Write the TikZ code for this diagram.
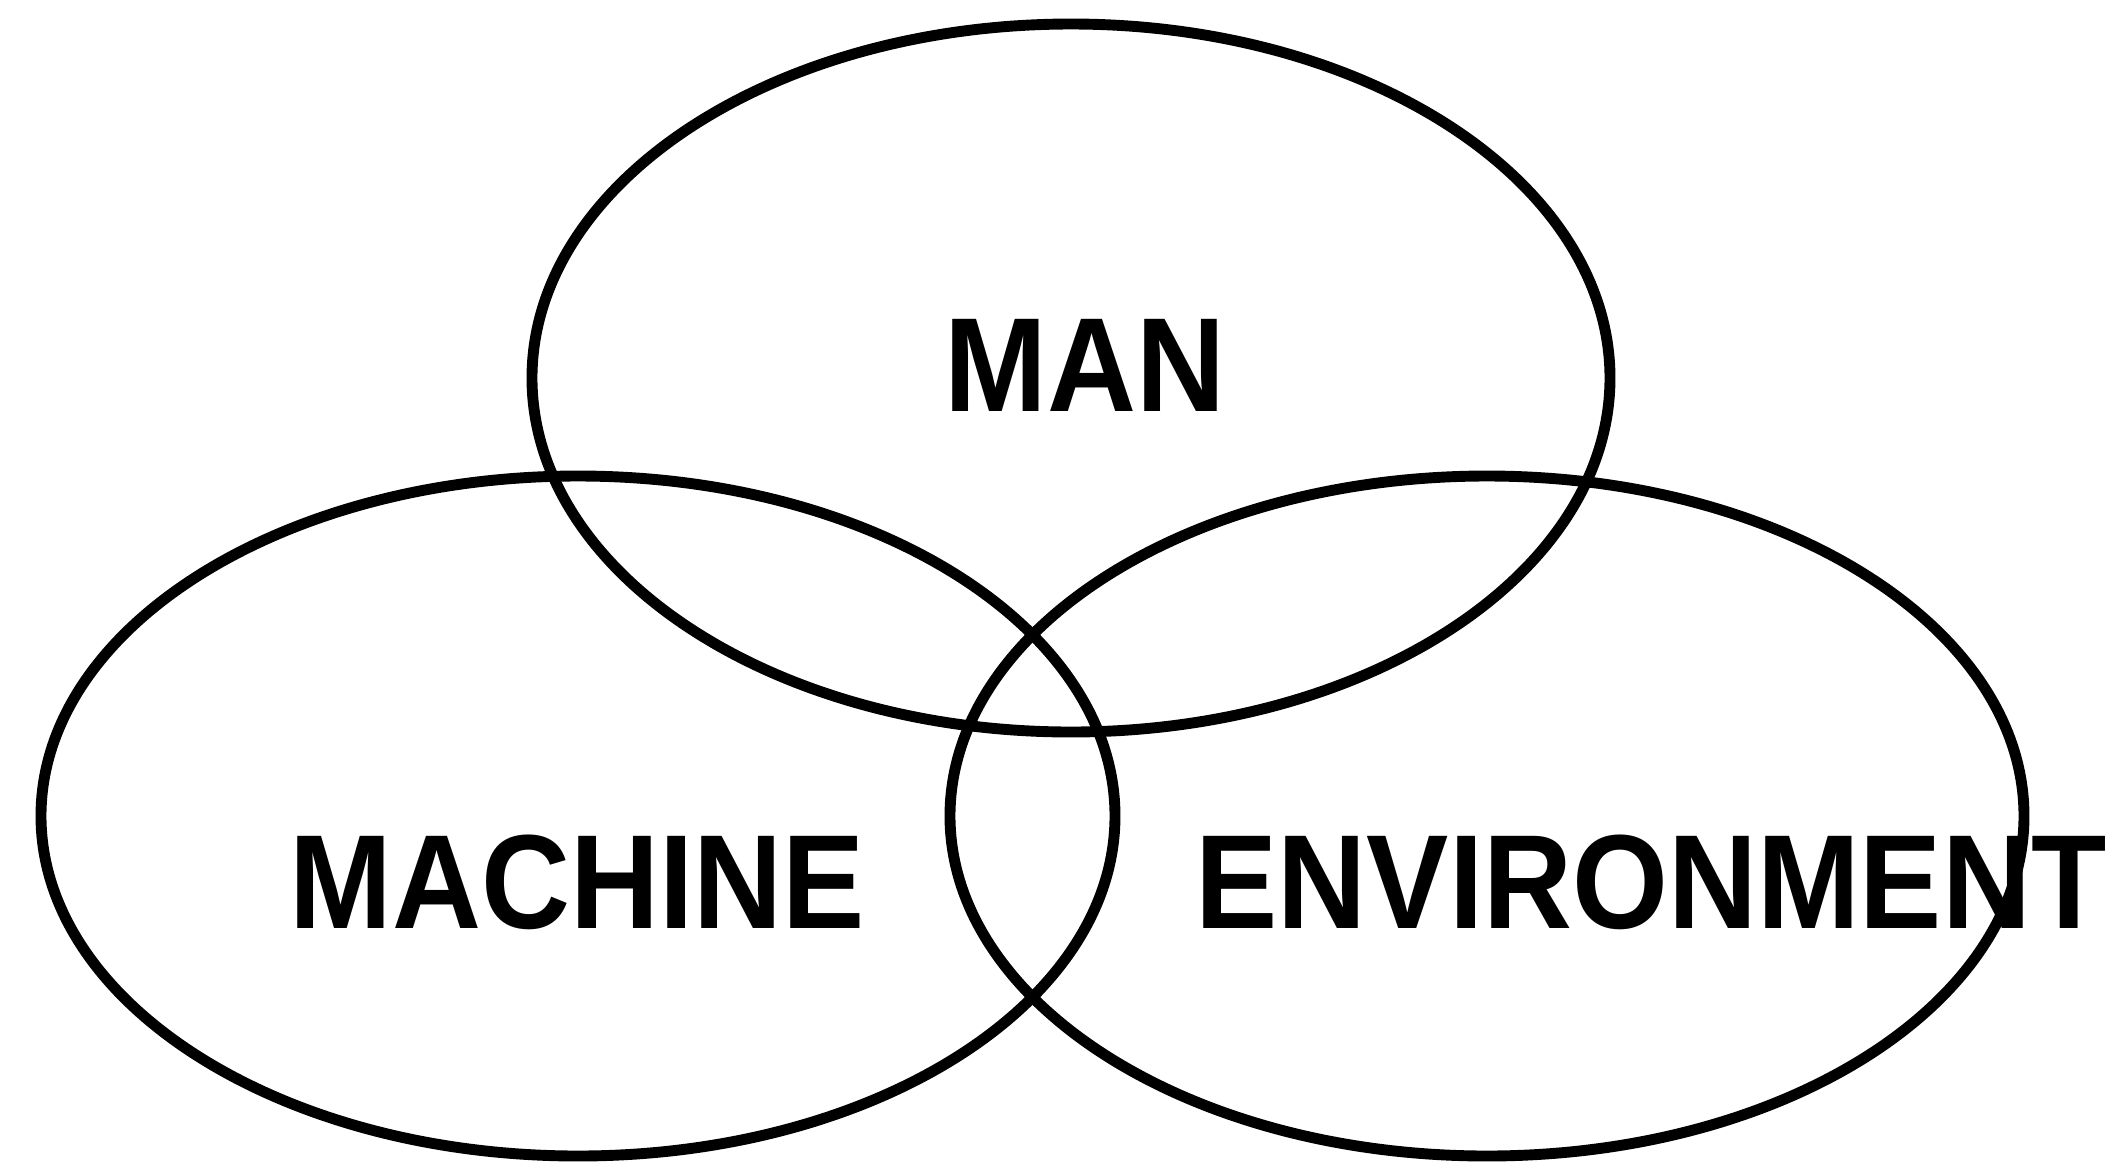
\documentclass[tikz,border=0pt]{standalone}
\usepackage{fontspec}
\setmainfont{Liberation Sans}
\begin{document}
\begin{tikzpicture}[x=0.01cm,y=-0.01cm,
  ring/.style={line width=3.1pt, black},
  lbl/.style={anchor=base, inner sep=0pt, font=\fontsize{38.1}{40}\selectfont\bfseries}]
\useasboundingbox (0,0) rectangle (2105,1166);
\fill[white] (0,0) rectangle (2105,1166);
% circles
\draw[ring] (1071,378) ellipse [x radius=539, y radius=354];
\draw[ring] (578,816) ellipse [x radius=537, y radius=340];
\draw[ring] (1487,816) ellipse [x radius=537, y radius=340];
% labels
\node[lbl] (man) at (1085,411) {\scalebox{0.92}[1]{MAN}};
\node[lbl] (machine) at (577,928) {\scalebox{0.92}[1]{MACHINE}};
\node[lbl] (env) at (1651,928) {\scalebox{0.92}[1]{ENVIRONMENT}};
\end{tikzpicture}
\end{document}
